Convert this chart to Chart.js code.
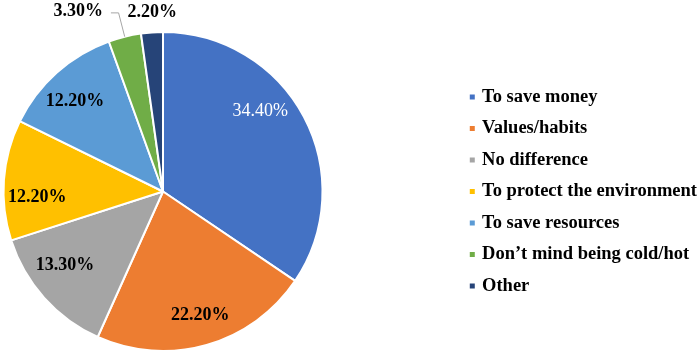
<!DOCTYPE html>
<html>
<head>
<meta charset="utf-8">
<script src="https://cdn.jsdelivr.net/npm/chart.js@4"></script>
<style>
  html, body { margin: 0; padding: 0; background: #fff; }
  #chart { display: block; }
</style>
</head>
<body>
<canvas id="chart" width="699" height="354"></canvas>
<script>
const categories = [
  'To save money',
  'Values/habits',
  'No difference',
  'To protect the environment',
  'To save resources',
  'Don\u2019t mind being cold/hot',
  'Other',
];
const shares = [34.4, 22.2, 13.3, 12.2, 12.2, 3.3, 2.2];

const sliceColors = ['#4472C4', '#ED7D31', '#A5A5A5', '#FFC000', '#5B9BD5', '#70AD47', '#264478'];

// label placement: shift from slice mid angle (deg) and distance as fraction of radius
const labelShift = [-11.6, -0.9, 4.7, -6.8, -2.5, -11.3, 0.5];
const labelDist = [0.79, 0.81, 0.77, 0.79, 0.79, 1.25, 1.125];

const FONT = '"Liberation Serif", "Times New Roman", serif';

// pie sits left of the middle of the free area, legend hugs the right edge
const pieShift = {
  id: 'pieShift',
  afterLayout(chart) {
    const area = chart.chartArea;
    const dx = 163 - (area.left + area.right) / 2;
    area.left += dx;
    area.right += dx;
    chart.legend.left += 8;
    chart.legend.right += 8;
  }
};

const sliceLabels = {
  id: 'sliceLabels',
  afterDatasetsDraw(chart) {
    const ctx = chart.ctx;
    const arcs = chart.getDatasetMeta(0).data;
    ctx.save();
    ctx.textAlign = 'center';
    ctx.textBaseline = 'middle';
    arcs.forEach((arc, i) => {
      const { x, y, startAngle, endAngle, outerRadius } = arc.getProps(['x', 'y', 'startAngle', 'endAngle', 'outerRadius'], true);
      const mid = (startAngle + endAngle) / 2;
      const a = mid + labelShift[i] * Math.PI / 180;
      const r = outerRadius * labelDist[i];
      const lx = x + Math.cos(a) * r;
      const ly = y + Math.sin(a) * r;
      const text = shares[i].toFixed(2) + '%';
      const inside = labelDist[i] < 1;
      ctx.font = (i === 0 ? '' : 'bold ') + '18px ' + FONT;
      ctx.fillStyle = i === 0 ? '#ffffff' : '#000000';

      // leader line for the outside label that is pushed away from its slice
      if (!inside && Math.abs(labelShift[i]) > 3) {
        const w = ctx.measureText(text).width;
        const ex = x + Math.cos(mid) * outerRadius;
        const ey = y + Math.sin(mid) * outerRadius;
        const kx = x + Math.cos(mid) * outerRadius * 1.16;
        const ky = y + Math.sin(mid) * outerRadius * 1.16;
        ctx.beginPath();
        ctx.strokeStyle = '#a6a6a6';
        ctx.lineWidth = 1;
        ctx.moveTo(ex, ey);
        ctx.lineTo(kx, ky + 1);
        ctx.lineTo(lx + w / 2 + 8, ky + 1);
        ctx.stroke();
      }
      ctx.fillText(text, lx, ly);
    });
    ctx.restore();
  }
};

new Chart(document.getElementById('chart'), {
  type: 'pie',
  data: {
    labels: categories,
    datasets: [{
      data: shares,
      backgroundColor: sliceColors,
      borderColor: '#ffffff',
      borderWidth: 2,
    }],
  },
  options: {
    responsive: false,
    animation: false,
    layout: { padding: { left: 0, right: 0, top: 31, bottom: 2 } },
    plugins: {
      tooltip: { enabled: false },
      legend: {
        position: 'right',
        labels: {
          usePointStyle: true,
          pointStyle: 'rect',
          boxWidth: 1,
          boxHeight: 5,
          padding: 13,
          color: '#000',
          font: { family: FONT, size: 18.5, weight: 'bold' },
          generateLabels(chart) {
            return chart.data.labels.map((label, i) => ({
              text: label,
              fillStyle: sliceColors[i],
              strokeStyle: sliceColors[i],
              lineWidth: 0,
              pointStyle: 'rect',
              index: i,
              hidden: false,
            }));
          },
        },
      },
    },
  },
  plugins: [pieShift, sliceLabels],
});
</script>
</body>
</html>
